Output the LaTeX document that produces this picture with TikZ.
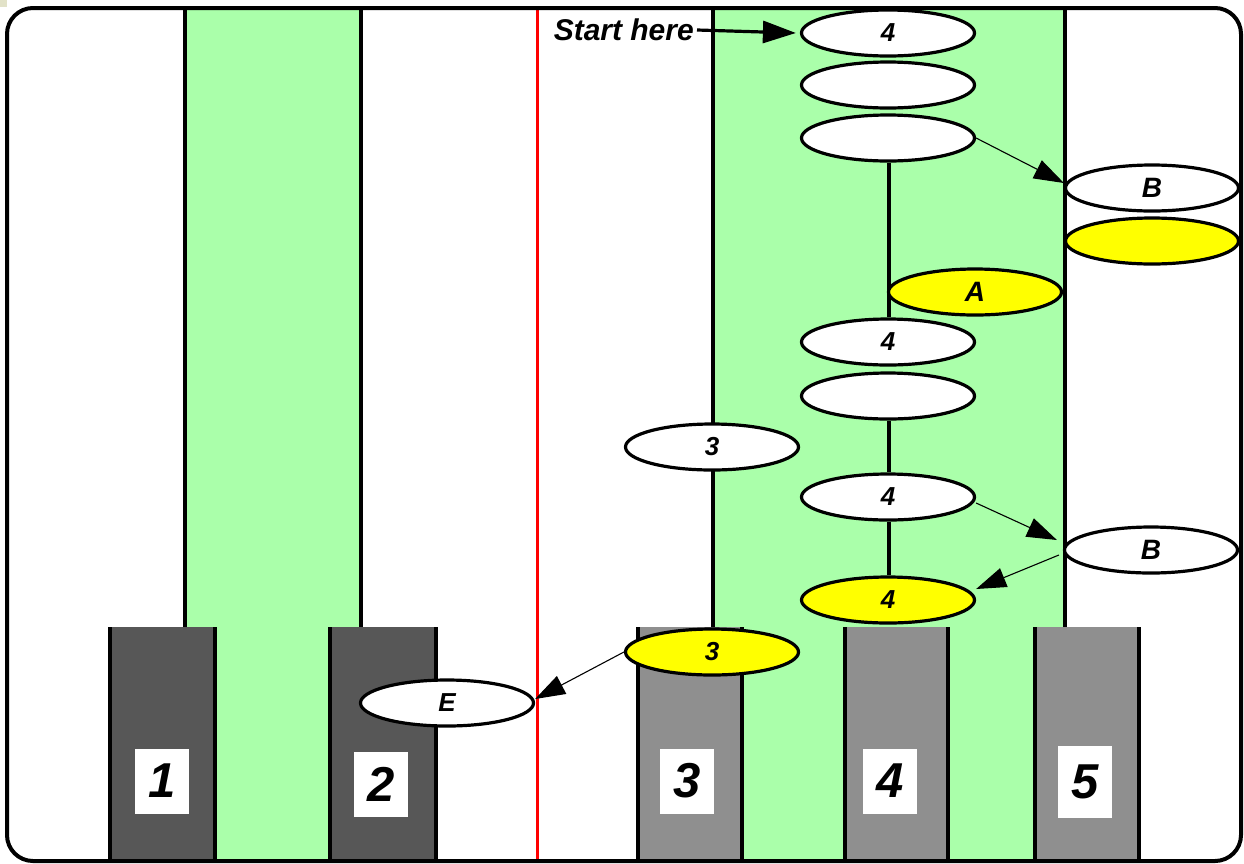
\documentclass[tikz,border=0pt]{standalone}
\usepackage{fontspec}
\setmainfont{Liberation Sans}
\usetikzlibrary{shapes.geometric,arrows.meta}
\definecolor{lanegreen}{HTML}{AAFFAA}
\definecolor{hiyellow}{HTML}{FFFF00}
\definecolor{darkbar}{HTML}{575757}
\definecolor{midbar}{HTML}{8F8F8F}
\definecolor{cornerbeige}{HTML}{E2E2C8}
\pgfdeclarelayer{back}
\pgfdeclarelayer{mid}
\pgfsetlayers{back,mid,main}
\begin{document}
\begin{tikzpicture}[x=1pt,y=-1pt,
  oval/.style={ellipse,draw,line width=3.2pt,fill=white,minimum width=173pt,
    minimum height=46pt,inner sep=0pt,font=\fontsize{26}{28}\selectfont\bfseries\itshape},
  hot/.style={oval,fill=hiyellow},
  letter/.style={font=\fontsize{28}{30}\selectfont\bfseries\itshape},
  lane/.style={line width=3.8pt},
  tag/.style={fill=white,minimum width=54pt,minimum height=65pt,inner sep=0pt,
    font=\fontsize{49}{51}\selectfont\bfseries\itshape},
  link/.style={line width=1.1pt,-{Triangle[length=30pt,width=20pt]}},
  bold link/.style={line width=3.2pt,-{Triangle[length=33pt,width=22pt]}},
]
\useasboundingbox (0,0) rectangle (1244,863);

\begin{pgfonlayer}{back}
  \fill[white] (0,0) rectangle (1244,863);
  \fill[cornerbeige] (0,0) rectangle (7,7);
  % green lanes
  \fill[lanegreen] (185,8) rectangle (361,861);
  \fill[lanegreen] (713,8) rectangle (1065,861);
  % bars
  \foreach \l/\r in {110/215,330/436}{
    \fill[darkbar] (\l,627) rectangle (\r,861);
    \draw[lane] (\l,627) -- (\l,861) (\r,627) -- (\r,861);
  }
  \foreach \l/\r in {638/742,845/948,1035/1139}{
    \fill[midbar] (\l,627) rectangle (\r,861);
    \draw[lane] (\l,627) -- (\l,861) (\r,627) -- (\r,861);
  }
  % lane borders
  \foreach \x in {185,361,713,1065}
    \draw[lane] (\x,8) -- (\x,627);
  \draw[red,line width=3pt] (537,8) -- (537,861);
\end{pgfonlayer}

% column 4
\node[oval] (e1) at (888,33) {4};
\node[oval] (e2) at (888,85) {};
\node[oval] (e3) at (888,138) {};
\node[hot,letter] (a) at (975,292) {A};
\node[oval] (e4) at (888,342) {4};
\node[oval] (e5) at (888,396) {};
\node[oval] (e6) at (888,497) {4};
\node[hot] (e7) at (888,600) {4};
% column 3
\node[oval] (c1) at (712,447) {3};
\node[hot] (c2) at (712,652) {3};
% column 5
\node[oval,letter] (b1) at (1152,188) {B};
\node[hot] (y1) at (1152,241) {};
\node[oval,letter] (b2) at (1151,550) {B};
% column 2
\node[oval] (en) at (447,703) {E};

% bar numbers
\node[tag] (t1) at (162,781) {1};
\node[tag] (t2) at (381,784) {2};
\node[tag] (t3) at (687,781) {3};
\node[tag] (t4) at (890,781) {4};
\node[tag,minimum height=72pt] (t5) at (1085,782) {5};

% vertical links in column 4
\begin{pgfonlayer}{mid}
  \draw[lane] ([xshift=1pt]e3.south) -- ([xshift=1pt]e4.north);
  \draw[lane] ([xshift=1pt]e5.south) -- ([xshift=1pt]e6.north);
  \draw[lane] ([xshift=1pt]e6.south) -- ([xshift=1pt]e7.north);
\end{pgfonlayer}

% start marker
\node[font=\fontsize{30}{32}\selectfont\bfseries\itshape,inner sep=3pt,anchor=east]
  (start) at (697,30) {Start here};
\draw[bold link] (start.east) -- ([xshift=-4pt]e1.west);

% messages
\draw[link] (e3.east) -- ([yshift=5pt]b1.west);
\draw[link] ([yshift=-6pt]e6.east) -- ([xshift=-6pt,yshift=10pt]b2.west);
\draw[link] ([xshift=-4pt,yshift=-5pt]b2.west) -- ([yshift=11pt]e7.east);
\draw[link] (c2.west) -- ([yshift=4pt]en.east);

% frame
\draw[line width=4pt,rounded corners=26pt] (7,8) rectangle (1241,861);
\end{tikzpicture}
\end{document}
